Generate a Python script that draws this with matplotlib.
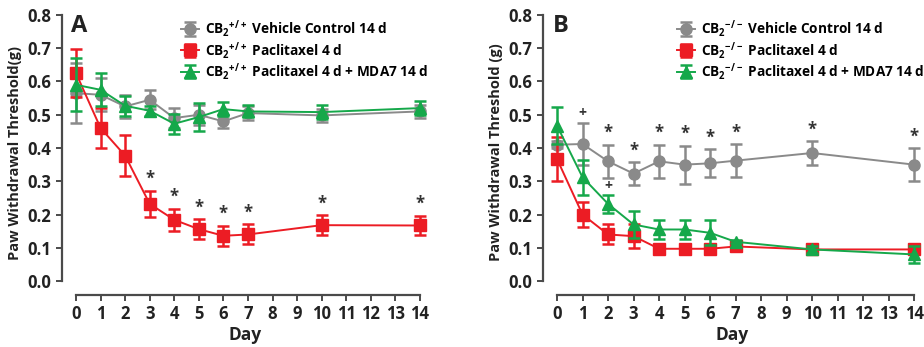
import numpy as np
import matplotlib
matplotlib.use('Agg')
import matplotlib.pyplot as plt

plt.rcParams['font.family'] = ['Open Sans', 'DejaVu Sans']
plt.rcParams['font.weight'] = 'bold'
plt.rcParams['mathtext.fontset'] = 'custom'
plt.rcParams['mathtext.rm'] = 'Open Sans:bold'
plt.rcParams['mathtext.it'] = 'Open Sans:bold'
plt.rcParams['mathtext.bf'] = 'Open Sans:bold'

days = [0, 1, 2, 3, 4, 5, 6, 7, 10, 14]

# panel A: CB2 +/+
a_veh = [0.565, 0.56, 0.525, 0.545, 0.49, 0.50, 0.48, 0.505, 0.498, 0.51]
a_veh_err = [0.09, 0.05, 0.035, 0.028, 0.03, 0.03, 0.02, 0.02, 0.02, 0.02]
a_pac = [0.625, 0.46, 0.377, 0.232, 0.184, 0.156, 0.136, 0.14, 0.168, 0.167]
a_pac_err = [0.072, 0.06, 0.062, 0.04, 0.033, 0.03, 0.03, 0.03, 0.03, 0.03]
a_mda = [0.59, 0.575, 0.527, 0.512, 0.473, 0.493, 0.517, 0.51, 0.508, 0.52]
a_mda_err = [0.08, 0.05, 0.03, 0.015, 0.03, 0.042, 0.02, 0.018, 0.02, 0.022]
a_star_days = [3, 4, 5, 6, 7, 10, 14]

# panel B: CB2 -/-
b_veh = [0.41, 0.412, 0.36, 0.323, 0.36, 0.35, 0.354, 0.362, 0.385, 0.35]
b_veh_err = [0.01, 0.063, 0.05, 0.035, 0.05, 0.057, 0.042, 0.05, 0.035, 0.05]
b_pac = [0.367, 0.2, 0.14, 0.135, 0.097, 0.097, 0.097, 0.104, 0.095, 0.095]
b_pac_err = [0.065, 0.037, 0.03, 0.035, 0.01, 0.01, 0.01, 0.015, 0.01, 0.012]
b_mda = [0.467, 0.312, 0.232, 0.17, 0.155, 0.155, 0.145, 0.118, 0.095, 0.08]
b_mda_err = [0.055, 0.053, 0.028, 0.042, 0.028, 0.028, 0.038, 0.005, 0.01, 0.025]
b_star_days = [2, 3, 4, 5, 6, 7, 10, 14]
b_plus_days = [1]
b_plus_green_days = [2]

GRAY = '#8a8a8a'
RED = '#ec1c24'
GREEN = '#15a84a'
AXC = '#4a4a4a'


def draw_panel(ax, veh, veh_err, pac, pac_err, mda, mda_err, geno, ylabel, letter, leg_x):
    kw = dict(capsize=4, capthick=1.8, elinewidth=1.8, lw=1.4)
    cb = r'CB$_2{}^{%s}$' % geno
    ax.errorbar(days, veh, yerr=veh_err, color=GRAY, marker='o', ms=8,
                label=cb + ' Vehicle Control 14 d', zorder=2, **kw)
    ax.errorbar(days, pac, yerr=pac_err, color=RED, marker='s', ms=8,
                label=cb + ' Paclitaxel 4 d', zorder=3, **kw)
    ax.errorbar(days, mda, yerr=mda_err, color=GREEN, marker='^', ms=8,
                label=cb + ' Paclitaxel 4 d + MDA7 14 d', zorder=4, **kw)

    ax.set_ylim(-0.042, 0.815)
    ax.set_yticks(np.arange(0, 0.81, 0.1))
    ax.set_yticklabels(['%.1f' % v for v in np.arange(0, 0.81, 0.1)])
    ax.set_xticks(range(0, 15))
    ax.spines['top'].set_visible(False)
    ax.spines['right'].set_visible(False)
    ax.spines['left'].set_bounds(0, 0.8)
    ax.spines['bottom'].set_bounds(0, 14)
    for s in ('left', 'bottom'):
        ax.spines[s].set_color(AXC)
        ax.spines[s].set_linewidth(1.6)
    ax.tick_params(colors=AXC, width=1.4, length=4, labelsize=12, labelcolor='#222222')
    ax.set_xlabel('Day', fontsize=12.5, fontweight='bold', color='#222222', labelpad=2)
    ax.set_ylabel(ylabel, fontsize=10.5, fontweight='bold', color='#222222', labelpad=4)
    ax.text(0.025, 0.985, letter, transform=ax.transAxes, fontsize=17,
            fontweight='bold', va='top', color='#222222')
    ax.legend(loc='upper left', bbox_to_anchor=(leg_x, 0.99), frameon=False,
              fontsize=9.8, handlelength=1.3, handletextpad=0.5,
              labelspacing=0.02, borderpad=0.2, borderaxespad=0.2)


fig = plt.figure(figsize=(9.24, 3.47), dpi=100)
ax1 = fig.add_axes([62 / 924, 52 / 347, 366 / 924, 285 / 347])
ax1.set_xlim(-0.57, 14.33)
draw_panel(ax1, a_veh, a_veh_err, a_pac, a_pac_err, a_mda, a_mda_err,
           '+/+', 'Paw Withdrawal Threshold(g)', 'A', 0.31)
for d in a_star_days:
    i = days.index(d)
    ax1.text(d, a_pac[i] + a_pac_err[i] + 0.008, '*', ha='center', va='bottom',
             fontsize=12, color='#333333')

ax2 = fig.add_axes([543 / 924, 52 / 347, 378 / 924, 285 / 347])
ax2.set_xlim(-0.55, 14.27)
draw_panel(ax2, b_veh, b_veh_err, b_pac, b_pac_err, b_mda, b_mda_err,
           '-/-', 'Paw Withdrawal Threshold (g)', 'B', 0.34)
for d in b_star_days:
    i = days.index(d)
    ax2.text(d, b_veh[i] + b_veh_err[i] + 0.008, '*', ha='center', va='bottom',
             fontsize=12, color='#333333')
for d in b_plus_days:
    i = days.index(d)
    ax2.text(d, b_veh[i] + b_veh_err[i] + 0.008, '+', ha='center', va='bottom',
             fontsize=10, color='#333333')
for d in b_plus_green_days:
    i = days.index(d)
    ax2.text(d, b_mda[i] + b_mda_err[i] + 0.005, '+', ha='center', va='bottom',
             fontsize=10, color='#333333')

fig.savefig('out.png', dpi=100)
